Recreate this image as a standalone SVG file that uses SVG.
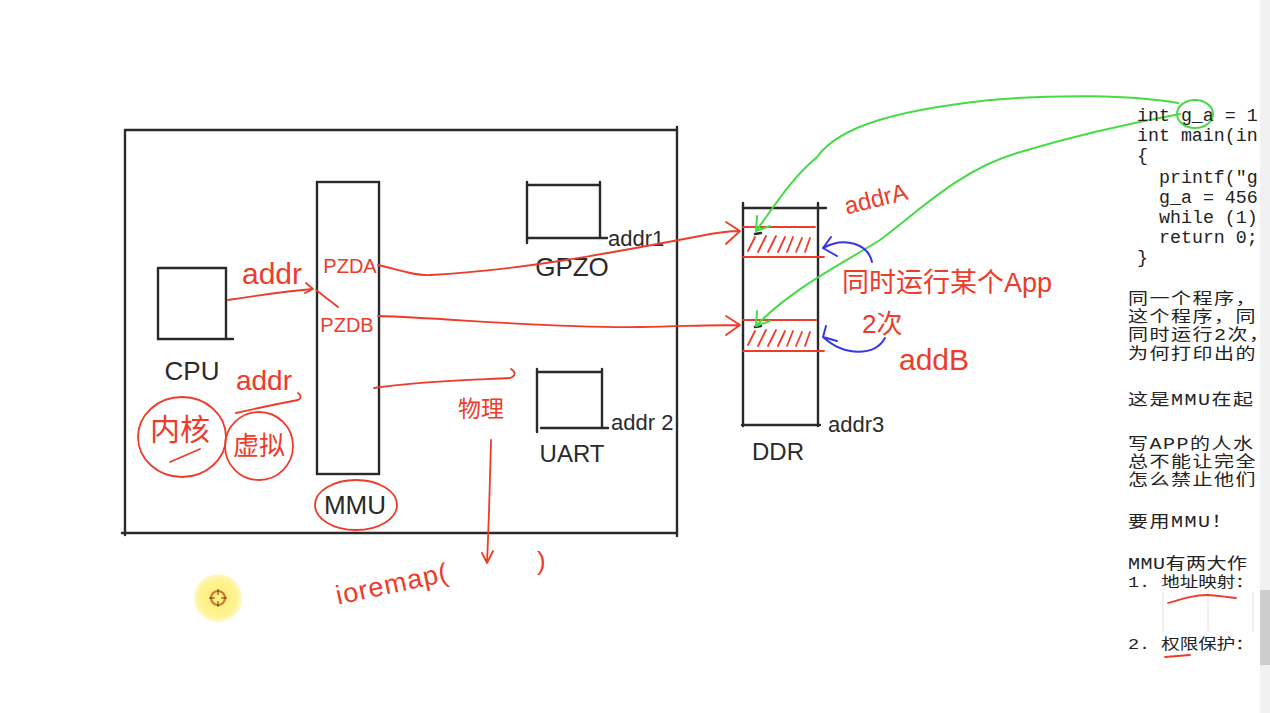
<svg xmlns="http://www.w3.org/2000/svg" width="1270" height="713" viewBox="0 0 1270 713">
<defs>
<style>
.k{stroke:#2a2a2a;stroke-width:2.4;fill:none;stroke-linecap:round}
.r{stroke:#ee3b2a;stroke-width:1.8;fill:none;stroke-linecap:round;stroke-linejoin:round}
.g{stroke:#46db46;stroke-width:2;fill:none;stroke-linecap:round;stroke-linejoin:round}
.b{stroke:#3636e6;stroke-width:2;fill:none;stroke-linecap:round;stroke-linejoin:round}
.rt{fill:#ee3b2a;font-family:"Liberation Sans","Noto Sans CJK SC",sans-serif}
.kt{fill:#2a2a2a;font-family:"Liberation Sans","Noto Sans CJK SC",sans-serif}
.code{fill:#222;font-family:"Liberation Mono","Noto Sans CJK SC",monospace;font-size:18.3px}
.cn{fill:#222;font-family:"Liberation Mono","Noto Sans CJK SC",monospace;font-size:20px;letter-spacing:1.5px}
</style>
<clipPath id="clipR"><rect x="0" y="0" width="1259" height="713"/></clipPath>
<radialGradient id="yel" cx="0.5" cy="0.5" r="0.5">
<stop offset="0" stop-color="#fdf07a"/><stop offset="0.75" stop-color="#fdf38f"/><stop offset="1" stop-color="#fff8c8"/>
</radialGradient>
</defs>
<rect width="1270" height="713" fill="#ffffff"/>
<rect x="1260" y="0" width="10" height="713" fill="#f1f1f1"/>
<rect x="1260" y="590" width="10" height="75" fill="#cdcdcd"/>

<g id="soc-board">
<path class="k" d="M125,130 L677,130 M125,130 L125,535 M122,533 L677,533 M677,127 L677,536"/>
</g>

<g id="cpu">
<path class="k" d="M158,268 L226,268 L226,339 M158,268 L158,339 L233,339"/>
<text class="kt" x="192" y="380" font-size="26" text-anchor="middle">CPU</text>
</g>

<g id="kernel">
<ellipse class="r" cx="182" cy="437" rx="44" ry="40"/>
<text class="rt" x="180" y="440" font-size="30" text-anchor="middle">内核</text>
<path class="r" d="M170,462 L200,449"/>
</g>

<g id="virtual">
<ellipse class="r" cx="259" cy="446" rx="34" ry="34"/>
<text class="rt" x="259" y="455" font-size="26" text-anchor="middle">虚拟</text>
</g>

<g id="mmu">
<rect class="k" x="317" y="182" width="62" height="292"/>
<text class="rt" x="350" y="273" font-size="20" text-anchor="middle">PZDA</text>
<text class="rt" x="347" y="332" font-size="20" text-anchor="middle">PZDB</text>
<ellipse class="r" cx="356" cy="505" rx="41" ry="25"/>
<text class="kt" x="355" y="514" font-size="26" text-anchor="middle">MMU</text>
</g>

<g id="gpio">
<path class="k" d="M527,185 L600,185 M527,182 L527,243 M600,182 L600,238 M527,238 L607,238"/>
<text class="kt" x="608" y="246" font-size="22">addr1</text>
<text class="kt" x="572" y="276" font-size="26" text-anchor="middle">GPZO</text>
</g>

<g id="uart">
<path class="k" d="M537,372 L602,372 M537,369 L537,432 M602,369 L602,428 M541,428 L608,428"/>
<text class="kt" x="611" y="430" font-size="22">addr 2</text>
<text class="kt" x="572" y="462" font-size="24" text-anchor="middle">UART</text>
</g>

<g id="ddr">
<path class="k" d="M743,203 L743,426 M818,203 L818,426 M743,208 L826,208 M742,425 L820,425"/>
<path class="r" d="M743,227 L815,227 M743,257 L824,257 M743,320 L816,320 M743,351 L824,351"/>
<path class="r" d="M748,251 L755,237 M758,252 L766,236 M768,252 L776,236 M778,252 L785,237 M787,252 L793,237 M796,252 L802,238 M805,252 L810,238 M748,345 L755,331 M758,346 L766,330 M768,346 L776,330 M778,346 L785,331 M787,346 L793,331 M796,346 L802,332 M805,346 L810,332"/>
<path class="k" d="M755,234 L761,233 M755,327 L761,326" stroke-width="2"/>
<text class="kt" x="778" y="460" font-size="24" text-anchor="middle">DDR</text>
<text class="kt" x="828" y="432" font-size="22">addr3</text>
</g>

<g id="annotations">
<text class="rt" x="272" y="284" font-size="30" text-anchor="middle">addr</text>
<text class="rt" x="264" y="390" font-size="28" text-anchor="middle">addr</text>
<text class="rt" x="481" y="417" font-size="23" text-anchor="middle">物理</text>
<text class="rt" x="876" y="207" font-size="24" text-anchor="middle" transform="rotate(-14 876 199)">addrA</text>
<text class="rt" x="842" y="292" font-size="27">同时运行某个App</text>
<text class="rt" x="862" y="333" font-size="26">2次</text>
<text class="rt" x="934" y="370" font-size="30" text-anchor="middle">addB</text>
<text class="rt" x="392" y="593" font-size="27" text-anchor="middle" letter-spacing="1" transform="rotate(-12 392 583)">ioremap(</text>
<text class="rt" x="537" y="570" font-size="26">)</text>
</g>

<g id="connectors">
<path class="r" d="M228,300 C260,295 290,291 313,289 M306,283 L313,289 L305,293 M316,290 L338,307"/>
<path class="r" d="M236,413 C258,408 282,403 298,400 C302,398 301,395 298,393"/>
<path class="r" d="M378,265 C400,270 415,276 430,275 C520,270 600,255 700,236 C715,233 728,231 740,231 M726,222 L740,231 L726,244"/>
<path class="r" d="M378,316 C450,318 540,328 640,327 C690,326 715,325 740,325 M726,316 L740,325 L726,335"/>
<path class="r" d="M374,388 C420,381 470,380 510,378 C516,376 516,372 511,369"/>
<path class="r" d="M491,440 C490,480 489,520 487,563 M482,553 L487,563 L493,551"/>
<path class="g" d="M1178,103 C1130,95 1060,94 990,100 C900,110 840,125 817,157 C790,180 775,205 757,230 M757,216 L756,231 L770,226"/>
<path class="g" d="M1180,114 C1120,125 1060,140 1017,153 C960,170 920,210 880,240 C840,265 790,290 757,325 M757,311 L756,326 L770,321"/>
<path class="b" d="M872,262 C868,244 845,236 823,248 M831,237 L823,248 L837,256"/>
<path class="b" d="M885,338 C875,356 845,357 823,337 M826,326 L823,337 L837,341"/>
</g>

<g id="code-panel" clip-path="url(#clipR)">
<ellipse class="g" cx="1195" cy="114" rx="18" ry="14"/>
<text class="code" x="1137" y="121">int g_a = 1</text>
<text class="code" x="1137" y="141">int main(in</text>
<text class="code" x="1137" y="161">{</text>
<text class="code" x="1159" y="183">printf("g</text>
<text class="code" x="1159" y="203">g_a = 456</text>
<text class="code" x="1159" y="223">while (1)</text>
<text class="code" x="1159" y="243">return 0;</text>
<text class="code" x="1137" y="263">}</text>
<text class="cn" transform="translate(1128,304) scale(1,0.8)">同一个程序，</text>
<text class="cn" transform="translate(1128,322) scale(1,0.8)">这个程序，同</text>
<text class="cn" transform="translate(1128,340) scale(1,0.8)">同时运行2次，</text>
<text class="cn" transform="translate(1128,359) scale(1,0.8)">为何打印出的</text>
<text class="cn" transform="translate(1128,405) scale(1,0.8)">这是MMU在起</text>
<text class="cn" transform="translate(1128,449) scale(1,0.8)">写APP的人水</text>
<text class="cn" transform="translate(1128,467) scale(1,0.8)">总不能让完全</text>
<text class="cn" transform="translate(1128,485) scale(1,0.8)">怎么禁止他们</text>
<text class="cn" transform="translate(1128,527) scale(1,0.8)">要用MMU！</text>
<text class="cn" transform="translate(1128,569) scale(1,0.8)" style="letter-spacing:0.5px">MMU有两大作</text>
<text class="cn" transform="translate(1128,587) scale(1,0.8)" style="font-size:18.5px;letter-spacing:0">1. 地址映射：</text>
<text class="cn" transform="translate(1128,649) scale(1,0.8)" style="font-size:18.5px;letter-spacing:0">2. 权限保护：</text>
<path d="M1163,592 L1163,632 M1208,592 L1208,632 M1253,592 L1253,632" stroke="#e2e2e2" stroke-width="1"/>
<path class="r" d="M1168,603 C1185,598 1195,595 1207,595 C1217,595 1225,597 1236,598"/>
<path class="r" d="M1165,657 L1190,655"/>
</g>

<g id="cursor">
<circle cx="218" cy="598" r="24" fill="url(#yel)"/>
<circle cx="218" cy="598" r="7" fill="none" stroke="#d8742a" stroke-width="2.2"/>
<path d="M209,598 L215,598 M221,598 L227,598 M218,589 L218,595 M218,601 L218,607" stroke="#333" stroke-width="0.9"/>
</g>
</svg>
